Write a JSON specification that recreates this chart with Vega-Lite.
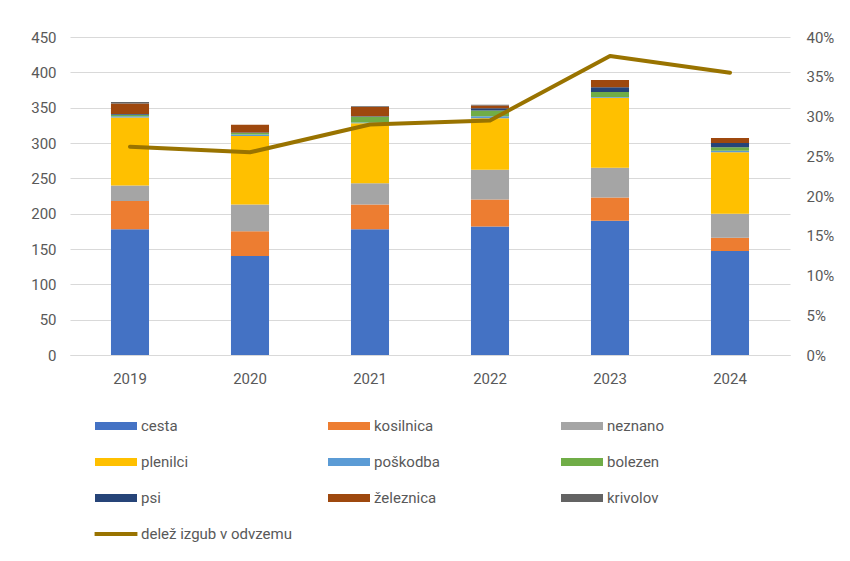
{
  "$schema": "https://vega.github.io/schema/vega-lite/v6.json",
  "width": 720,
  "height": 318,
  "autosize": {"type": "none"},
  "padding": {"left": 70, "top": 37, "right": 60, "bottom": 206},
  "background": "white",
  "config": {
    "font": "Roboto",
    "view": {"stroke": null},
    "axis": {"labelFont": "Roboto", "labelFontSize": 15, "labelColor": "#595959", "ticks": false, "domain": false, "titleColor": "#595959"}
  },
  "datasets": {
    "bars": [
      {"leto": "2019", "vrsta": "cesta", "stevilo": 178},
      {"leto": "2019", "vrsta": "kosilnica", "stevilo": 40},
      {"leto": "2019", "vrsta": "neznano", "stevilo": 22},
      {"leto": "2019", "vrsta": "plenilci", "stevilo": 96},
      {"leto": "2019", "vrsta": "poškodba", "stevilo": 2},
      {"leto": "2019", "vrsta": "bolezen", "stevilo": 2},
      {"leto": "2019", "vrsta": "psi", "stevilo": 1},
      {"leto": "2019", "vrsta": "železnica", "stevilo": 15},
      {"leto": "2019", "vrsta": "krivolov", "stevilo": 2},
      {"leto": "2020", "vrsta": "cesta", "stevilo": 140},
      {"leto": "2020", "vrsta": "kosilnica", "stevilo": 35},
      {"leto": "2020", "vrsta": "neznano", "stevilo": 38},
      {"leto": "2020", "vrsta": "plenilci", "stevilo": 97},
      {"leto": "2020", "vrsta": "poškodba", "stevilo": 2},
      {"leto": "2020", "vrsta": "bolezen", "stevilo": 2},
      {"leto": "2020", "vrsta": "psi", "stevilo": 1},
      {"leto": "2020", "vrsta": "železnica", "stevilo": 11},
      {"leto": "2020", "vrsta": "krivolov", "stevilo": 0},
      {"leto": "2021", "vrsta": "cesta", "stevilo": 178},
      {"leto": "2021", "vrsta": "kosilnica", "stevilo": 35},
      {"leto": "2021", "vrsta": "neznano", "stevilo": 30},
      {"leto": "2021", "vrsta": "plenilci", "stevilo": 85},
      {"leto": "2021", "vrsta": "poškodba", "stevilo": 1},
      {"leto": "2021", "vrsta": "bolezen", "stevilo": 8},
      {"leto": "2021", "vrsta": "psi", "stevilo": 1},
      {"leto": "2021", "vrsta": "železnica", "stevilo": 13},
      {"leto": "2021", "vrsta": "krivolov", "stevilo": 1},
      {"leto": "2022", "vrsta": "cesta", "stevilo": 182},
      {"leto": "2022", "vrsta": "kosilnica", "stevilo": 38},
      {"leto": "2022", "vrsta": "neznano", "stevilo": 42},
      {"leto": "2022", "vrsta": "plenilci", "stevilo": 73},
      {"leto": "2022", "vrsta": "poškodba", "stevilo": 3},
      {"leto": "2022", "vrsta": "bolezen", "stevilo": 8},
      {"leto": "2022", "vrsta": "psi", "stevilo": 3},
      {"leto": "2022", "vrsta": "železnica", "stevilo": 4},
      {"leto": "2022", "vrsta": "krivolov", "stevilo": 1},
      {"leto": "2023", "vrsta": "cesta", "stevilo": 190},
      {"leto": "2023", "vrsta": "kosilnica", "stevilo": 33},
      {"leto": "2023", "vrsta": "neznano", "stevilo": 42},
      {"leto": "2023", "vrsta": "plenilci", "stevilo": 99},
      {"leto": "2023", "vrsta": "poškodba", "stevilo": 1},
      {"leto": "2023", "vrsta": "bolezen", "stevilo": 7},
      {"leto": "2023", "vrsta": "psi", "stevilo": 7},
      {"leto": "2023", "vrsta": "železnica", "stevilo": 10},
      {"leto": "2023", "vrsta": "krivolov", "stevilo": 0},
      {"leto": "2024", "vrsta": "cesta", "stevilo": 147},
      {"leto": "2024", "vrsta": "kosilnica", "stevilo": 19},
      {"leto": "2024", "vrsta": "neznano", "stevilo": 34},
      {"leto": "2024", "vrsta": "plenilci", "stevilo": 87},
      {"leto": "2024", "vrsta": "poškodba", "stevilo": 2},
      {"leto": "2024", "vrsta": "bolezen", "stevilo": 5},
      {"leto": "2024", "vrsta": "psi", "stevilo": 6},
      {"leto": "2024", "vrsta": "železnica", "stevilo": 7},
      {"leto": "2024", "vrsta": "krivolov", "stevilo": 0}
    ],
    "line": [
      {"leto": "2019", "delez": 0.262},
      {"leto": "2020", "delez": 0.255},
      {"leto": "2021", "delez": 0.29},
      {"leto": "2022", "delez": 0.295},
      {"leto": "2023", "delez": 0.376},
      {"leto": "2024", "delez": 0.355}
    ]
  },
  "layer": [
    {
      "data": {"name": "bars"},
      "transform": [
        {"calculate": "indexof(['cesta','kosilnica','neznano','plenilci','poškodba','bolezen','psi','železnica','krivolov'], datum.vrsta)", "as": "poradje"}
      ],
      "mark": {"type": "bar", "strokeWidth": 0},
      "encoding": {
        "x": {"field": "leto", "type": "ordinal", "scale": {"paddingInner": 0.683, "paddingOuter": 0.3415},
              "axis": {"title": null, "labelAngle": 0, "labelPadding": 16, "domain": true, "domainColor": "#d9d9d9", "domainWidth": 1}},
        "y": {"field": "stevilo", "type": "quantitative", "stack": "zero",
              "scale": {"domain": [0, 450]},
              "axis": {"title": null, "values": [0, 50, 100, 150, 200, 250, 300, 350, 400, 450], "grid": true, "gridColor": "#d9d9d9", "labelPadding": 14}},
        "order": {"field": "poradje", "type": "quantitative", "sort": "ascending"},
        "color": {
          "field": "vrsta", "type": "nominal",
          "scale": {
            "domain": ["cesta", "kosilnica", "neznano", "plenilci", "poškodba", "bolezen", "psi", "železnica", "krivolov", "delež izgub v odvzemu"],
            "range": ["#4472C4", "#ED7D31", "#A5A5A5", "#FFC000", "#5B9BD5", "#70AD47", "#264478", "#9E480E", "#636363", "#997300"]
          },
          "legend": {
            "title": null,
            "orient": "none",
            "legendX": 25,
            "legendY": 368,
            "direction": "horizontal",
            "columns": 3,
            "gridAlign": "all",
            "columnPadding": 36,
            "rowPadding": 7,
            "labelFont": "Roboto",
            "labelFontSize": 15,
            "labelColor": "#595959",
            "labelOffset": 4,
            "symbolSize": 1764,
            "symbolStrokeWidth": 0,
            "symbolOpacity": 1,
            "encode": {
              "symbols": {
                "update": {
                  "shape": {"signal": "datum.value === 'delež izgub v odvzemu' ? 'M-1.02,-0.1L1.02,-0.1L1.02,0.1L-1.02,0.1Z' : 'M-1,-0.19L1,-0.19L1,0.19L-1,0.19Z'"},
                  "fill": {"scale": "color", "field": "value"},
                  "stroke": {"value": "transparent"},
                  "opacity": {"value": 1}
                }
              }
            }
          }
        }
      }
    },
    {
      "data": {"name": "line"},
      "mark": {"type": "line", "strokeWidth": 4, "strokeCap": "round", "strokeJoin": "round"},
      "encoding": {
        "x": {"field": "leto", "type": "ordinal"},
        "y": {"field": "delez", "type": "quantitative",
              "scale": {"domain": [0, 0.4]},
              "axis": {"title": null, "orient": "right", "format": ".0%", "values": [0, 0.05, 0.1, 0.15, 0.2, 0.25, 0.3, 0.35, 0.4], "grid": false, "labelPadding": 16}},
        "color": {"datum": "delež izgub v odvzemu"}
      }
    }
  ],
  "resolve": {"scale": {"y": "independent"}}
}
